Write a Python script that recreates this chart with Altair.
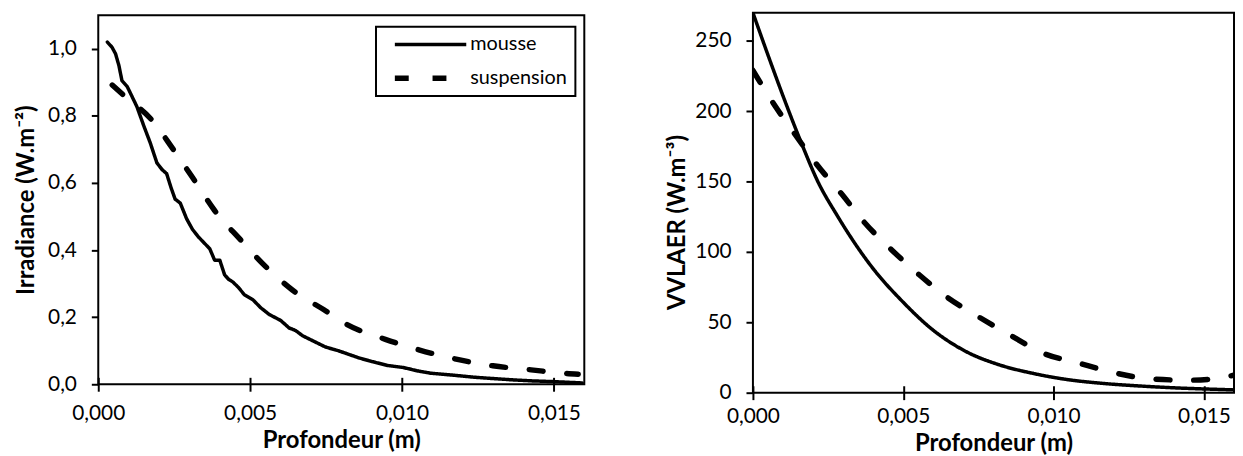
import altair as alt
import pandas as pd

series = ["mousse", "suspension"]

# Left panel: Irradiance (W.m-2) vs Profondeur (m)
irr_mousse_x = [0.0003, 0.00045, 0.00057, 0.00068, 0.00078, 0.00095, 0.00110, 0.00127, 0.00150,
                0.00171, 0.00193, 0.00210, 0.00225, 0.00240, 0.00253, 0.00270, 0.00291, 0.00310,
                0.00329, 0.00350, 0.00367, 0.00383, 0.00400, 0.00416, 0.00430, 0.00443, 0.00460,
                0.00481, 0.00509, 0.00535, 0.00563, 0.00601, 0.00628, 0.00650, 0.00672, 0.00710,
                0.00748, 0.00790, 0.00825, 0.00860, 0.00900, 0.00952, 0.01004, 0.01050, 0.01094,
                0.01170, 0.01237, 0.01300, 0.01367, 0.01430, 0.01496, 0.01593]
irr_mousse_y = [1.020, 1.005, 0.985, 0.950, 0.905, 0.888, 0.860, 0.828, 0.770,
                0.720, 0.660, 0.640, 0.628, 0.585, 0.552, 0.540, 0.493, 0.462,
                0.440, 0.420, 0.404, 0.370, 0.370, 0.326, 0.312, 0.305, 0.290,
                0.267, 0.252, 0.228, 0.208, 0.190, 0.168, 0.160, 0.145, 0.128,
                0.111, 0.100, 0.089, 0.078, 0.068, 0.056, 0.050, 0.040, 0.033,
                0.027, 0.021, 0.017, 0.013, 0.010, 0.008, 0.004]
irr_susp_x = [0.00046, 0.00089, 0.00176, 0.00247, 0.00318, 0.00383, 0.00465, 0.00552, 0.00639,
              0.00743, 0.00819, 0.00945, 0.01058, 0.01178, 0.01299, 0.01425, 0.01542, 0.01580]
irr_susp_y = [0.892, 0.857, 0.788, 0.700, 0.606, 0.518, 0.434, 0.350, 0.281,
              0.222, 0.178, 0.134, 0.102, 0.075, 0.055, 0.043, 0.032, 0.030]

# Right panel: VVLAER (W.m-3) vs Profondeur (m)
vvl_mousse_x = [0.0, 0.0005, 0.00107, 0.00162, 0.00216, 0.00280, 0.00327, 0.00404, 0.00492,
                0.00602, 0.00711, 0.00822, 0.00932, 0.0104, 0.0117, 0.0130, 0.0143, 0.0151, 0.0160]
vvl_mousse_y = [270, 240, 207, 177, 150, 126, 110, 87, 66,
                44, 29, 19.6, 13.7, 9.5, 6.5, 4.6, 3.2, 2.6, 2.0]
vvl_susp_x = [0.0, 0.0007, 0.00142, 0.00213, 0.00296, 0.00371, 0.00459, 0.00552, 0.00645,
              0.0075, 0.00855, 0.00966, 0.01084, 0.01195, 0.01322, 0.01444, 0.0152, 0.01568, 0.0160]
vvl_susp_y = [229, 205, 183, 162, 141, 121, 102, 84, 68,
              54, 41, 28, 21, 14.5, 9.8, 8.9, 9.5, 11, 12.5]

x_ticks = [0.0, 0.005, 0.010, 0.015]
irr_ticks = [0.0, 0.2, 0.4, 0.6, 0.8, 1.0]
vvl_ticks = [0, 50, 100, 150, 200, 250]


def frame(xs, ys, name):
    return pd.DataFrame({"x": xs, "y": ys, "serie": name})


left_m = frame(irr_mousse_x, irr_mousse_y, "mousse")
left_s = frame(irr_susp_x, irr_susp_y, "suspension")
right_m = frame(vvl_mousse_x, vvl_mousse_y, "mousse")
right_s = frame(vvl_susp_x, vvl_susp_y, "suspension")

FONT = "Lato"
dash_scale = alt.Scale(domain=series, range=[[1, 0], [14, 24]])
width_scale = alt.Scale(domain=series, range=[3.5, 5.5])
x_lab = "replace(format(datum.value, '.3f'), '.', ',')"


def x_enc(label_pad, title_pad):
    return alt.X(
        "x:Q",
        scale=alt.Scale(domain=[0, 0.016], nice=False, zero=False),
        axis=alt.Axis(values=x_ticks, labelExpr=x_lab, title="Profondeur (m)",
                      offset=-7, tickSize=14, labelPadding=label_pad, titlePadding=title_pad,
                      labelFlush=False, labelOverlap=False),
    )


def panel(dfm, dfs, y_enc, legend, interp_m, label_pad, title_pad):
    def layer(df, interp):
        return alt.Chart(df).mark_line(color="black", strokeCap="round", strokeJoin="round",
                                       clip=True, interpolate=interp).encode(
            x=x_enc(label_pad, title_pad),
            y=y_enc,
            strokeDash=alt.StrokeDash("serie:N", scale=dash_scale, legend=legend),
            strokeWidth=alt.StrokeWidth("serie:N", scale=width_scale, legend=legend),
        )
    return alt.layer(layer(dfm, interp_m), layer(dfs, "monotone"))


leg = alt.Legend(title=None, orient="none", legendX=280, legendY=14)

left_y = alt.Y(
    "y:Q",
    scale=alt.Scale(domain=[0, 1.1], nice=False),
    axis=alt.Axis(values=irr_ticks, labelExpr="replace(format(datum.value, '.1f'), '.', ',')",
                  title="Irradiance (W.m⁻²)", tickSize=7, labelPadding=15, titlePadding=9,
                  labelFlush=False, labelOverlap=False),
)
right_y = alt.Y(
    "y:Q",
    scale=alt.Scale(domain=[0, 270], nice=False),
    axis=alt.Axis(values=vvl_ticks, format="d", title="VVLAER (W.m⁻³)", tickSize=7,
                  labelPadding=15, titlePadding=5, titleY=211,
                  labelFlush=False, labelOverlap=False),
)

left = panel(left_m, left_s, left_y, leg, "linear", 12, 5).properties(width=490, height=372)
right = panel(right_m, right_s, right_y, None, "monotone", 6, 5).properties(width=485, height=383)

chart = (
    alt.hconcat(left, right, spacing=80, center=True)
    .properties(padding={"left": 5, "top": 2, "right": 0, "bottom": 0})
    .configure_view(stroke="black", strokeWidth=2)
    .configure_axis(labelFont=FONT, labelFontSize=21, labelColor="black",
                    titleFont=FONT, titleFontSize=24, titleFontWeight="bold", titleColor="black",
                    tickColor="black", tickWidth=2, grid=False, domain=False)
    .configure_legend(clipHeight=20, symbolType="stroke", symbolSize=5184, symbolOffset=8,
                      labelOffset=1, labelFontSize=20, labelFont=FONT, labelColor="black",
                      rowPadding=14, padding=8, fillColor="white", strokeColor="black",
                      strokeWidth=2, symbolStrokeColor="black")
)

chart.save("out.html", embed_options={"renderer": "svg", "actions": False})
